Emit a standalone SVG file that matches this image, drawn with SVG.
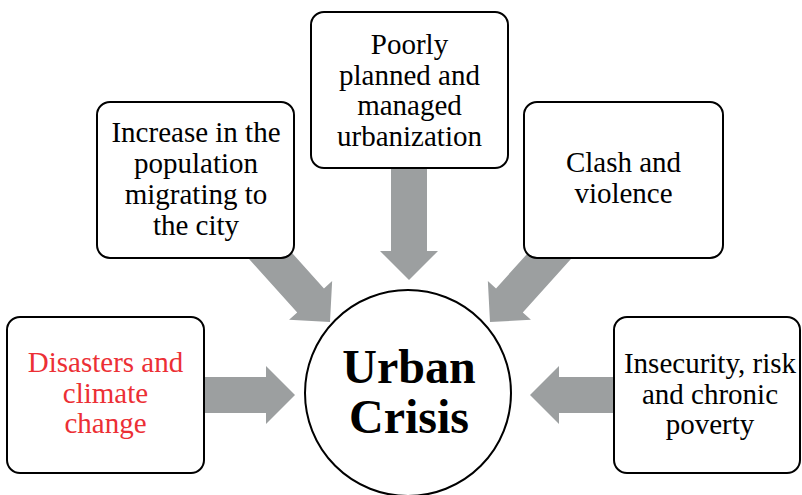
<svg xmlns="http://www.w3.org/2000/svg" width="802" height="495" viewBox="0 0 802 495">
  <defs>
    <!-- block arrow pointing +x, tip at the origin -->
    <polygon id="blockArrow" points="0,0 -29,-29 -29,-18 -120,-18 -120,18 -29,18 -29,29"/>
  </defs>
  <style>
    .box { fill: #ffffff; stroke: #000000; stroke-width: 2; }
    .hub { fill: #ffffff; stroke: #000000; stroke-width: 2; }
    .arrow { fill: #9c9fa0; }
    .label { font-size: 29px; fill: #000000; text-anchor: middle; }
    .red { fill: #ec2f35; }
    .title { font-size: 48px; font-weight: bold; fill: #000000; text-anchor: middle; }
  </style>
  <rect width="802" height="495" fill="#ffffff"/>

  <!-- connectors: block arrows feeding into the central circle -->
  <g id="connectors">
    <use href="#blockArrow" class="arrow" transform="translate(295,395)"/>
    <use href="#blockArrow" class="arrow" transform="translate(330,322) rotate(48)"/>
    <use href="#blockArrow" class="arrow" transform="translate(409,280) rotate(90)"/>
    <use href="#blockArrow" class="arrow" transform="translate(490,322) rotate(132)"/>
    <use href="#blockArrow" class="arrow" transform="translate(530,395) rotate(180)"/>
  </g>

  <g font-family="'Liberation Serif', 'DejaVu Serif', serif">
    <g id="node-disasters">
      <rect class="box" x="7" y="317" width="197" height="156" rx="13"/>
      <text class="label red" x="105.5" y="372">Disasters and</text>
      <text class="label red" x="105.5" y="402.5">climate</text>
      <text class="label red" x="105.5" y="433">change</text>
    </g>

    <g id="node-migration">
      <rect class="box" x="97" y="102" width="197" height="156" rx="13"/>
      <text class="label" x="196" y="142">Increase in the</text>
      <text class="label" x="196" y="173">population</text>
      <text class="label" x="196" y="204">migrating to</text>
      <text class="label" x="196" y="235">the city</text>
    </g>

    <g id="node-urbanization">
      <rect class="box" x="311" y="12" width="197" height="156" rx="13"/>
      <text class="label" x="409.5" y="54">Poorly</text>
      <text class="label" x="409.5" y="84.5">planned and</text>
      <text class="label" x="409.5" y="115">managed</text>
      <text class="label" x="409.5" y="145.5">urbanization</text>
    </g>

    <g id="node-violence">
      <rect class="box" x="524" y="102" width="199" height="156" rx="13"/>
      <text class="label" x="623.5" y="172">Clash and</text>
      <text class="label" x="623.5" y="203">violence</text>
    </g>

    <g id="node-poverty">
      <rect class="box" x="614" y="317" width="186" height="156" rx="13"/>
      <text class="label" x="710" y="373">Insecurity, risk</text>
      <text class="label" x="710" y="403.5">and chronic</text>
      <text class="label" x="710" y="434">poverty</text>
    </g>

    <g id="node-urban-crisis">
      <circle class="hub" cx="408" cy="393" r="103"/>
      <text class="title" x="409" y="383">Urban</text>
      <text class="title" x="409" y="433">Crisis</text>
    </g>
  </g>
</svg>
